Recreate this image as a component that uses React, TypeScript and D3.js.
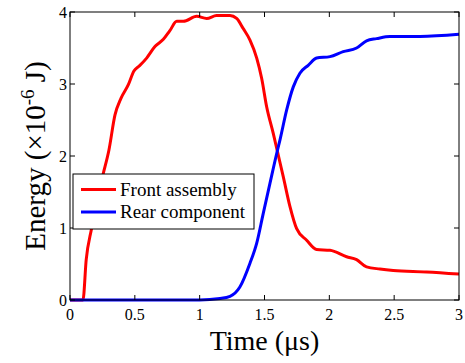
import * as d3 from "d3";

// time in µs, energy in 1e-6 J
const frontTime = [0, 0.1, 0.125, 0.167, 0.206, 0.257, 0.3, 0.347, 0.393, 0.45, 0.493, 0.534, 0.591, 0.655, 0.72, 0.77, 0.823, 0.874, 0.977, 1.054, 1.13, 1.234, 1.285, 1.336, 1.388, 1.44, 1.478, 1.517, 1.568, 1.6, 1.645, 1.696, 1.748, 1.825, 1.902, 2.005, 2.133, 2.21, 2.287, 2.39, 2.493, 2.75, 3.0];
const frontEnergy = [0, 0, 0.56, 1.0, 1.39, 1.76, 2.08, 2.57, 2.8, 2.99, 3.18, 3.25, 3.36, 3.52, 3.62, 3.74, 3.87, 3.87, 3.94, 3.91, 3.95, 3.95, 3.91, 3.77, 3.61, 3.36, 3.08, 2.68, 2.31, 2.06, 1.71, 1.3, 0.99, 0.83, 0.7, 0.69, 0.6, 0.56, 0.46, 0.43, 0.41, 0.39, 0.36];
const rearTime = [0, 0.5, 1.0, 1.157, 1.234, 1.31, 1.388, 1.44, 1.49, 1.542, 1.6, 1.619, 1.671, 1.722, 1.773, 1.837, 1.902, 2.005, 2.107, 2.21, 2.287, 2.364, 2.467, 2.7, 3.0];
const rearEnergy = [0, 0, 0, 0.02, 0.05, 0.18, 0.51, 0.79, 1.2, 1.62, 2.08, 2.22, 2.64, 2.96, 3.15, 3.26, 3.36, 3.38, 3.45, 3.5, 3.6, 3.63, 3.66, 3.66, 3.69];

const xTicks = [0, 0.5, 1, 1.5, 2, 2.5, 3];
const yTicks = [0, 1, 2, 3, 4];
const seriesNames = ["Front assembly", "Rear component"];
const seriesColors = ["#ff0000", "#0000ff"];

const W = 465;
const H = 363;
const margin = { left: 70, right: 6, top: 12, bottom: 63 };
const font = "'Liberation Serif', 'Times New Roman', serif";

export default function App() {
  const x = d3.scaleLinear().domain([0, 3]).range([margin.left, W - margin.right]);
  const y = d3.scaleLinear().domain([0, 4]).range([H - margin.bottom, margin.top]);
  const line = d3
    .line<[number, number]>()
    .x((d) => x(d[0]))
    .y((d) => y(d[1]))
    .curve(d3.curveMonotoneX);

  const series = [
    d3.zip(frontTime, frontEnergy) as [number, number][],
    d3.zip(rearTime, rearEnergy) as [number, number][],
  ];

  const x0 = x(0), x1 = x(3), y0 = y(0), y1 = y(4);
  const tk = 5;

  return (
    <svg
      width={W}
      height={H}
      style={{ position: "absolute", left: 0, top: 0, background: "#fff", fontFamily: font }}
    >
      <rect x={0} y={0} width={W} height={H} fill="#fff" />
      {series.map((s, i) => (
        <path
          key={i}
          d={line(s) ?? ""}
          fill="none"
          stroke={seriesColors[i]}
          strokeWidth={3}
          strokeLinejoin="round"
        />
      ))}
      <g stroke="#000" strokeWidth={1}>
        <rect x={x0} y={y1} width={x1 - x0} height={y0 - y1} fill="none" />
        {xTicks.map((t) => (
          <g key={t}>
            <line x1={x(t)} x2={x(t)} y1={y0} y2={y0 - tk} />
            <line x1={x(t)} x2={x(t)} y1={y1} y2={y1 + tk} />
          </g>
        ))}
        {yTicks.map((t) => (
          <g key={t}>
            <line x1={x0} x2={x0 + tk} y1={y(t)} y2={y(t)} />
            <line x1={x1} x2={x1 - tk} y1={y(t)} y2={y(t)} />
          </g>
        ))}
      </g>
      <g fontSize={16} fill="#000">
        {xTicks.map((t) => (
          <text key={t} x={x(t)} y={y0 + 20} textAnchor="middle">
            {t}
          </text>
        ))}
        {yTicks.map((t) => (
          <text key={t} x={x0 - 3} y={y(t)} dy="0.35em" textAnchor="end">
            {t}
          </text>
        ))}
      </g>
      <text x={(x0 + x1) / 2} y={350} textAnchor="middle" fontSize={28}>
        Time (μs)
      </text>
      <text
        transform={`translate(45,${(y0 + y1) / 2}) rotate(-90)`}
        textAnchor="middle"
        fontSize={29}
      >
        Energy (×10
        <tspan fontSize={19} dy={-11}>-6</tspan>
        <tspan dy={11}> J)</tspan>
      </text>
      <g transform="translate(73,174)">
        <rect x={0} y={0} width={181} height={55} fill="#fff" stroke="#000" strokeWidth={1} />
        {seriesNames.map((n, i) => (
          <g key={n} transform={`translate(0,${15.5 + i * 22.5})`}>
            <line x1={8} x2={43} y1={0} y2={0} stroke={seriesColors[i]} strokeWidth={3} />
            <text x={47} y={0} dy="0.33em" fontSize={19}>
              {n}
            </text>
          </g>
        ))}
      </g>
    </svg>
  );
}
